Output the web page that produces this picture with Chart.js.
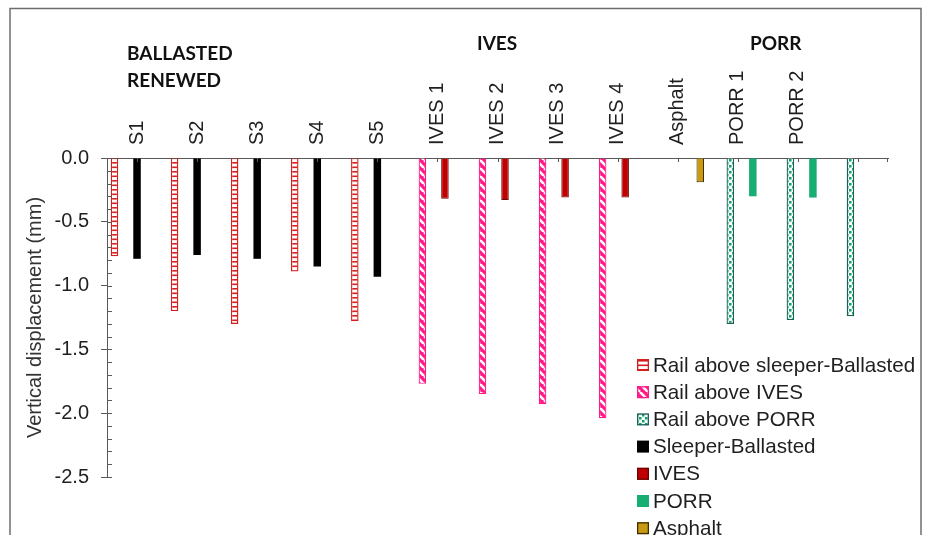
<!DOCTYPE html>
<html>
<head>
<meta charset="utf-8">
<title>Vertical displacement</title>
<script src="https://cdn.jsdelivr.net/npm/chart.js@4.4.1/dist/chart.umd.min.js"></script>
<style>
  html, body { margin: 0; padding: 0; background: #ffffff; }
  #wrap { width: 927px; height: 535px; position: relative; overflow: hidden; }
  canvas { display: block; }
</style>
</head>
<body>
<div id="wrap"><canvas id="c" width="927" height="535"></canvas></div>
<script>
// ---- data -------------------------------------------------------------
const categories = ['S1', 'S2', 'S3', 'S4', 'S5', 'IVES 1', 'IVES 2', 'IVES 3', 'IVES 4', 'Asphalt', 'PORR 1', 'PORR 2', ''];

const seriesNames = [
  'Rail above sleeper-Ballasted',
  'Rail above IVES',
  'Rail above PORR',
  'Sleeper-Ballasted',
  'IVES',
  'PORR',
  'Asphalt'
];

// vertical displacement in mm, one entry per category (null = no bar)
const railBallasted    = [-0.77, -1.20, -1.30, -0.89, -1.28, null, null, null, null, null, null, null, null];
const railIves         = [null, null, null, null, null, -1.77, -1.85, -1.93, -2.04, null, null, null, null];
const railPorr         = [null, null, null, null, null, null, null, null, null, null, -1.30, -1.27, -1.24];
const sleeperBallasted = [-0.79, -0.76, -0.79, -0.85, -0.93, null, null, null, null, null, null, null, null];
const ives             = [null, null, null, null, null, -0.32, -0.33, -0.31, -0.31, null, null, null, null];
const porr             = [null, null, null, null, null, null, null, null, null, null, -0.30, -0.31, null];
const asphalt          = [null, null, null, null, null, null, null, null, null, -0.19, null, null, null];

const yMin = -2.5;
const yMax = 0;
const yMajorStep = 0.5;
const yMinorStep = 0.1;

const yTitle = 'Vertical displacement (mm)';
const groupTitles = [
  { lines: ['BALLASTED', 'RENEWED'], x: 127, y: 60 },
  { lines: ['IVES'], x: 477, y: 50 },
  { lines: ['PORR'], x: 750, y: 50 }
];

// ---- styling ----------------------------------------------------------
const FONT = "'Liberation Sans', Arial, Helvetica, sans-serif";
const AXIS = '#595959';
const TEXT = '#1f1f1f';

const canvas = document.getElementById('c');
const ctx = canvas.getContext('2d');

function pattern(w, h, paint) {
  const tile = document.createElement('canvas');
  tile.width = w;
  tile.height = h;
  paint(tile.getContext('2d'), w, h);
  return ctx.createPattern(tile, 'repeat');
}

// small red grid
const RED = '#d42020';
const gridFill = pattern(8, 9, (g, w, h) => {
  g.fillStyle = '#ffffff';
  g.fillRect(0, 0, w, h);
  g.fillStyle = RED;
  g.fillRect(0, 0, w, 1.6);
  g.fillRect(0, 4.5, w, 1.6);
});

// wide downward diagonal, pink
const PINK = '#ff1a86';
const diagFill = pattern(8, 8, (g, w, h) => {
  g.fillStyle = PINK;
  g.fillRect(0, 0, w, h);
  g.strokeStyle = '#ffffff';
  g.lineWidth = 2.6;
  g.beginPath();
  for (const k of [-8, 0, 8]) {
    g.moveTo(k, 0);
    g.lineTo(k + 8, 8);
  }
  g.stroke();
});

// green dotted
const dotFill = pattern(6, 6, (g, w, h) => {
  g.fillStyle = '#f4fbf8';
  g.fillRect(0, 0, w, h);
  g.fillStyle = '#12a068';
  g.fillRect(0, 0, 2.5, 2.5);
  g.fillRect(3, 3, 2.5, 2.5);
});

const seriesStyles = [
  { backgroundColor: gridFill, borderColor: RED, borderWidth: 1.4 },
  { backgroundColor: diagFill, borderColor: PINK, borderWidth: 1.2 },
  { backgroundColor: dotFill, borderColor: '#1f5f5a', borderWidth: 1.3 },
  { backgroundColor: '#000000', borderColor: '#000000', borderWidth: 0 },
  { backgroundColor: '#c00000', borderColor: '#6b0000', borderWidth: 1 },
  { backgroundColor: '#17ae74', borderColor: '#17ae74', borderWidth: 0 },
  { backgroundColor: '#c99a12', borderColor: '#3d2d00', borderWidth: 1 }
];

const seriesValues = [railBallasted, railIves, railPorr, sleeperBallasted, ives, porr, asphalt];

const datasets = seriesValues.map((values, i) => Object.assign({
  label: seriesNames[i],
  data: values
}, seriesStyles[i]));

const isMajor = v => Math.round(v / yMinorStep) % Math.round(yMajorStep / yMinorStep) === 0;

// ---- plugins ----------------------------------------------------------
// outer frame and group headings
const decorations = {
  id: 'decorations',
  afterDraw(chart) {
    const c = chart.ctx;
    c.save();
    c.strokeStyle = '#6e6e6e';
    c.lineWidth = 1.5;
    c.strokeRect(10, 8.5, 911, 560);

    c.fillStyle = '#111111';
    c.font = "bold 19px Lato, 'Open Sans', sans-serif";
    c.textAlign = 'left';
    c.textBaseline = 'alphabetic';
    for (const g of groupTitles) {
      g.lines.forEach((line, i) => c.fillText(line, g.x, g.y + i * 27));
    }
    c.restore();
  }
};

// tick marks that point into the plot
const innerTicks = {
  id: 'innerTicks',
  afterDraw(chart) {
    const c = chart.ctx;
    const xs = chart.scales.x;
    const ys = chart.scales.y;
    const area = chart.chartArea;
    c.save();
    c.strokeStyle = AXIS;
    c.lineWidth = 1;
    c.beginPath();
    ys.ticks.forEach(t => {
      const y = Math.round(ys.getPixelForValue(t.value)) + 0.5;
      c.moveTo(area.left, y);
      c.lineTo(area.left + 5, y);
    });
    categories.forEach((_, i) => {
      const x = Math.round(xs.getPixelForValue(i)) + 0.5;
      c.moveTo(x, area.top);
      c.lineTo(x, area.top + 4);
    });
    const xr = Math.round(area.right) - 0.5;
    c.moveTo(xr, area.top);
    c.lineTo(xr, area.top + 4);
    c.stroke();
    c.restore();
  }
};

// legend box drawn over the lower right of the plot
const legendBox = {
  id: 'legendBox',
  afterDraw(chart) {
    const c = chart.ctx;
    const x0 = 637, y0 = 365, rowH = 27.2, box = 12;
    c.save();
    c.font = '20.6px ' + FONT;
    c.textBaseline = 'middle';
    c.textAlign = 'left';
    chart.data.datasets.forEach((ds, i) => {
      const y = y0 + i * rowH;
      c.fillStyle = ds.backgroundColor;
      c.fillRect(x0, y - box / 2, box, box);
      if (ds.borderWidth) {
        c.strokeStyle = ds.borderColor;
        c.lineWidth = 1.3;
        c.strokeRect(x0 + 0.65, y - box / 2 + 0.65, box - 1.3, box - 1.3);
      }
      c.fillStyle = TEXT;
      c.fillText(ds.label, x0 + 16, y + 1);
    });
    c.restore();
  }
};

new Chart(canvas, {
  type: 'bar',
  data: { labels: categories, datasets },
  options: {
    responsive: false,
    animation: false,
    devicePixelRatio: 1,
    layout: { padding: { left: 0, top: 0, right: 39, bottom: 58 } },
    datasets: { bar: { categoryPercentage: 0.875, barPercentage: 1.0 } },
    plugins: {
      legend: { display: false },
      tooltip: { enabled: false }
    },
    scales: {
      x: {
        type: 'category',
        position: 'top',
        offset: true,
        grid: { display: false, drawTicks: false },
        border: { display: true, color: AXIS, width: 1 },
        ticks: {
          autoSkip: false,
          minRotation: 90,
          maxRotation: 90,
          padding: 13,
          labelOffset: 24,
          color: TEXT,
          font: { family: FONT, size: 20 }
        },
        afterFit(scale) { scale.height = 158; }
      },
      y: {
        position: 'left',
        min: yMin,
        max: yMax,
        ticks: {
          stepSize: yMinorStep,
          autoSkip: false,
          padding: 12,
          color: TEXT,
          font: { family: FONT, size: 20 },
          callback: v => (isMajor(v) ? v.toFixed(1) : '')
        },
        grid: {
          drawOnChartArea: false,
          drawTicks: true,
          tickLength: 6,
          tickWidth: 1,
          tickColor: c => (c.tick && isMajor(c.tick.value) ? AXIS : 'rgba(0,0,0,0)')
        },
        border: { display: true, color: AXIS, width: 1 },
        title: {
          display: true,
          text: yTitle,
          color: '#333333',
          font: { family: FONT, size: 20 },
          padding: { top: 23, bottom: 0 }
        },
        afterFit(scale) { scale.width = 107; }
      }
    }
  },
  plugins: [decorations, innerTicks, legendBox]
});
</script>
</body>
</html>
